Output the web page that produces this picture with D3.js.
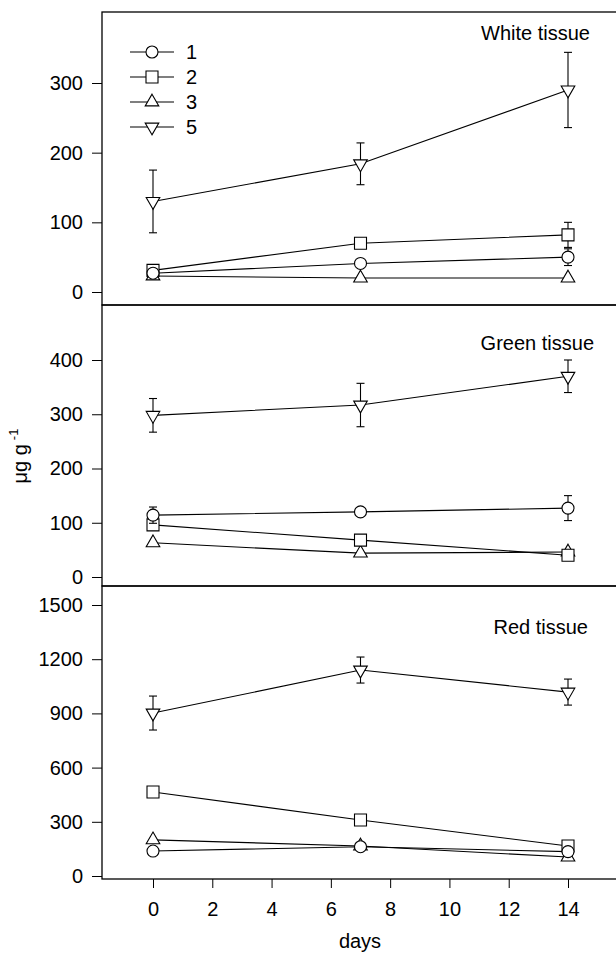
<!DOCTYPE html>
<html>
<head>
<script src="https://d3js.org/d3.v7.min.js"></script>
<style>
  body { margin: 0; background: #fff; }
  text { font-family: "Liberation Sans", Arial, sans-serif; fill: #000; }
</style>
</head>
<body>
<svg width="616" height="955"></svg>
<script>
// data
const days = [0, 7, 14];
const seriesNames = ["1", "2", "3", "5"];
const shapes = ["circle", "square", "up", "down"];

// White tissue
const white1 = [27, 41, 50],   whiteErr1 = [0, 0, 12];
const white2 = [31, 70, 82],   whiteErr2 = [0, 0, 18];
const white3 = [23, 20, 20],   whiteErr3 = [0, 0, 0];
const white5 = [130, 184, 290], whiteErr5 = [45, 30, 54];
const whiteTicks = [0, 100, 200, 300];

// Green tissue
const green1 = [114, 120, 127], greenErr1 = [15, 0, 23];
const green2 = [96, 68, 40],    greenErr2 = [0, 0, 0];
const green3 = [63, 44, 46],    greenErr3 = [0, 0, 0];
const green5 = [298, 317, 370], greenErr5 = [31, 40, 30];
const greenTicks = [0, 100, 200, 300, 400];

// Red tissue
const red1 = [138, 162, 135],   redErr1 = [0, 0, 0];
const red2 = [465, 310, 166],   redErr2 = [0, 0, 0];
const red3 = [200, 166, 105],   redErr3 = [0, 0, 0];
const red5 = [902, 1140, 1018], redErr5 = [94, 72, 72];
const redTicks = [0, 300, 600, 900, 1200, 1500];

const dayTicks = [0, 2, 4, 6, 8, 10, 12, 14];

const panels = [
  {title: "White tissue", top: 12, bottom: 305, dom: [0, 300], rng: [292, 83], ticks: whiteTicks,
   means: [white1, white2, white3, white5], errs: [whiteErr1, whiteErr2, whiteErr3, whiteErr5], titleX: 590, titleY: 40},
  {title: "Green tissue", top: 305, bottom: 586, dom: [0, 400], rng: [577, 360], ticks: greenTicks,
   means: [green1, green2, green3, green5], errs: [greenErr1, greenErr2, greenErr3, greenErr5], titleX: 594, titleY: 350},
  {title: "Red tissue", top: 586, bottom: 879, dom: [0, 1500], rng: [876, 605], ticks: redTicks,
   means: [red1, red2, red3, red5], errs: [redErr1, redErr2, redErr3, redErr5], titleX: 588, titleY: 634}
];

const svg = d3.select("svg");
const left = 102, right = 622;
const x = d3.scaleLinear().domain([0, 14]).range([153, 568]);
const fs = 20;

function marker(sel, shape) {
  const g = d3.symbol();
  if (shape === "circle") g.type(d3.symbolCircle).size(113);
  if (shape === "square") g.type(d3.symbolSquare).size(144);
  if (shape === "up" || shape === "down") g.type(d3.symbolTriangle).size(80);
  sel.append("path").attr("d", g())
    .attr("transform", shape === "down" ? "rotate(180)" : null)
    .attr("fill", "#fff").attr("stroke", "#000").attr("stroke-width", 1.1);
}

panels.forEach((p, pi) => {
  const y = d3.scaleLinear().domain(p.dom).range(p.rng);
  const g = svg.append("g");

  // frame
  g.append("rect").attr("x", left).attr("y", p.top)
    .attr("width", right - left).attr("height", p.bottom - p.top)
    .attr("fill", "none").attr("stroke", "#000").attr("stroke-width", 1.3);

  // y axis
  const ya = g.append("g").attr("transform", `translate(${left},0)`)
    .call(d3.axisLeft(y).tickValues(p.ticks).tickSize(10).tickPadding(9).tickFormat(d3.format("d")));
  ya.select(".domain").remove();
  ya.selectAll("line").attr("stroke", "#000");
  ya.selectAll("text").style("font-size", fs + "px");

  // series, drawn back to front
  [3, 2, 1, 0].forEach(si => {
    const vals = p.means[si], errs = p.errs[si];
    const pts = days.map((d, i) => ({d, v: vals[i], e: errs[i]}));
    g.append("path").datum(pts)
      .attr("d", d3.line().x(d => x(d.d)).y(d => y(d.v)))
      .attr("fill", "none").attr("stroke", "#000").attr("stroke-width", 1.1);
    pts.filter(d => d.e > 0).forEach(d => {
      const eg = g.append("g").attr("stroke", "#000").attr("stroke-width", 1.1);
      eg.append("line").attr("x1", x(d.d)).attr("x2", x(d.d)).attr("y1", y(d.v - d.e)).attr("y2", y(d.v + d.e));
      [d.v - d.e, d.v + d.e].forEach(v => eg.append("line")
        .attr("x1", x(d.d) - 4).attr("x2", x(d.d) + 4).attr("y1", y(v)).attr("y2", y(v)));
    });
    pts.forEach(d => {
      const mg = g.append("g").attr("transform", `translate(${x(d.d)},${y(d.v)})`);
      marker(mg, shapes[si]);
    });
  });

  g.append("text").attr("x", p.titleX).attr("y", p.titleY).attr("text-anchor", "end")
    .style("font-size", fs + "px").text(p.title);

  if (pi === 2) {
    const xa = g.append("g").attr("transform", `translate(0,${p.bottom})`)
      .call(d3.axisBottom(x).tickValues(dayTicks).tickSize(9).tickPadding(14));
    xa.select(".domain").remove();
    xa.selectAll("line").attr("stroke", "#000");
    xa.selectAll("text").style("font-size", fs + "px");
  }
});

// legend
const lg = svg.append("g");
seriesNames.forEach((n, i) => {
  const yy = 52 + i * 25;
  lg.append("line").attr("x1", 130).attr("x2", 174).attr("y1", yy).attr("y2", yy)
    .attr("stroke", "#000").attr("stroke-width", 1.1);
  marker(lg.append("g").attr("transform", `translate(152,${yy})`), shapes[i]);
  lg.append("text").attr("x", 186).attr("y", yy + 7).style("font-size", fs + "px").text(n);
});

// axis titles
svg.append("text").attr("x", 360).attr("y", 948).attr("text-anchor", "middle")
  .style("font-size", fs + "px").text("days");
const yl = svg.append("text").attr("transform", "translate(27,456) rotate(-90)")
  .attr("text-anchor", "middle").style("font-size", "20px");
yl.append("tspan").text("μg g");
yl.append("tspan").attr("dy", -9).attr("dx", 4).style("font-size", "13px").text("-1");
</script>
</body>
</html>
